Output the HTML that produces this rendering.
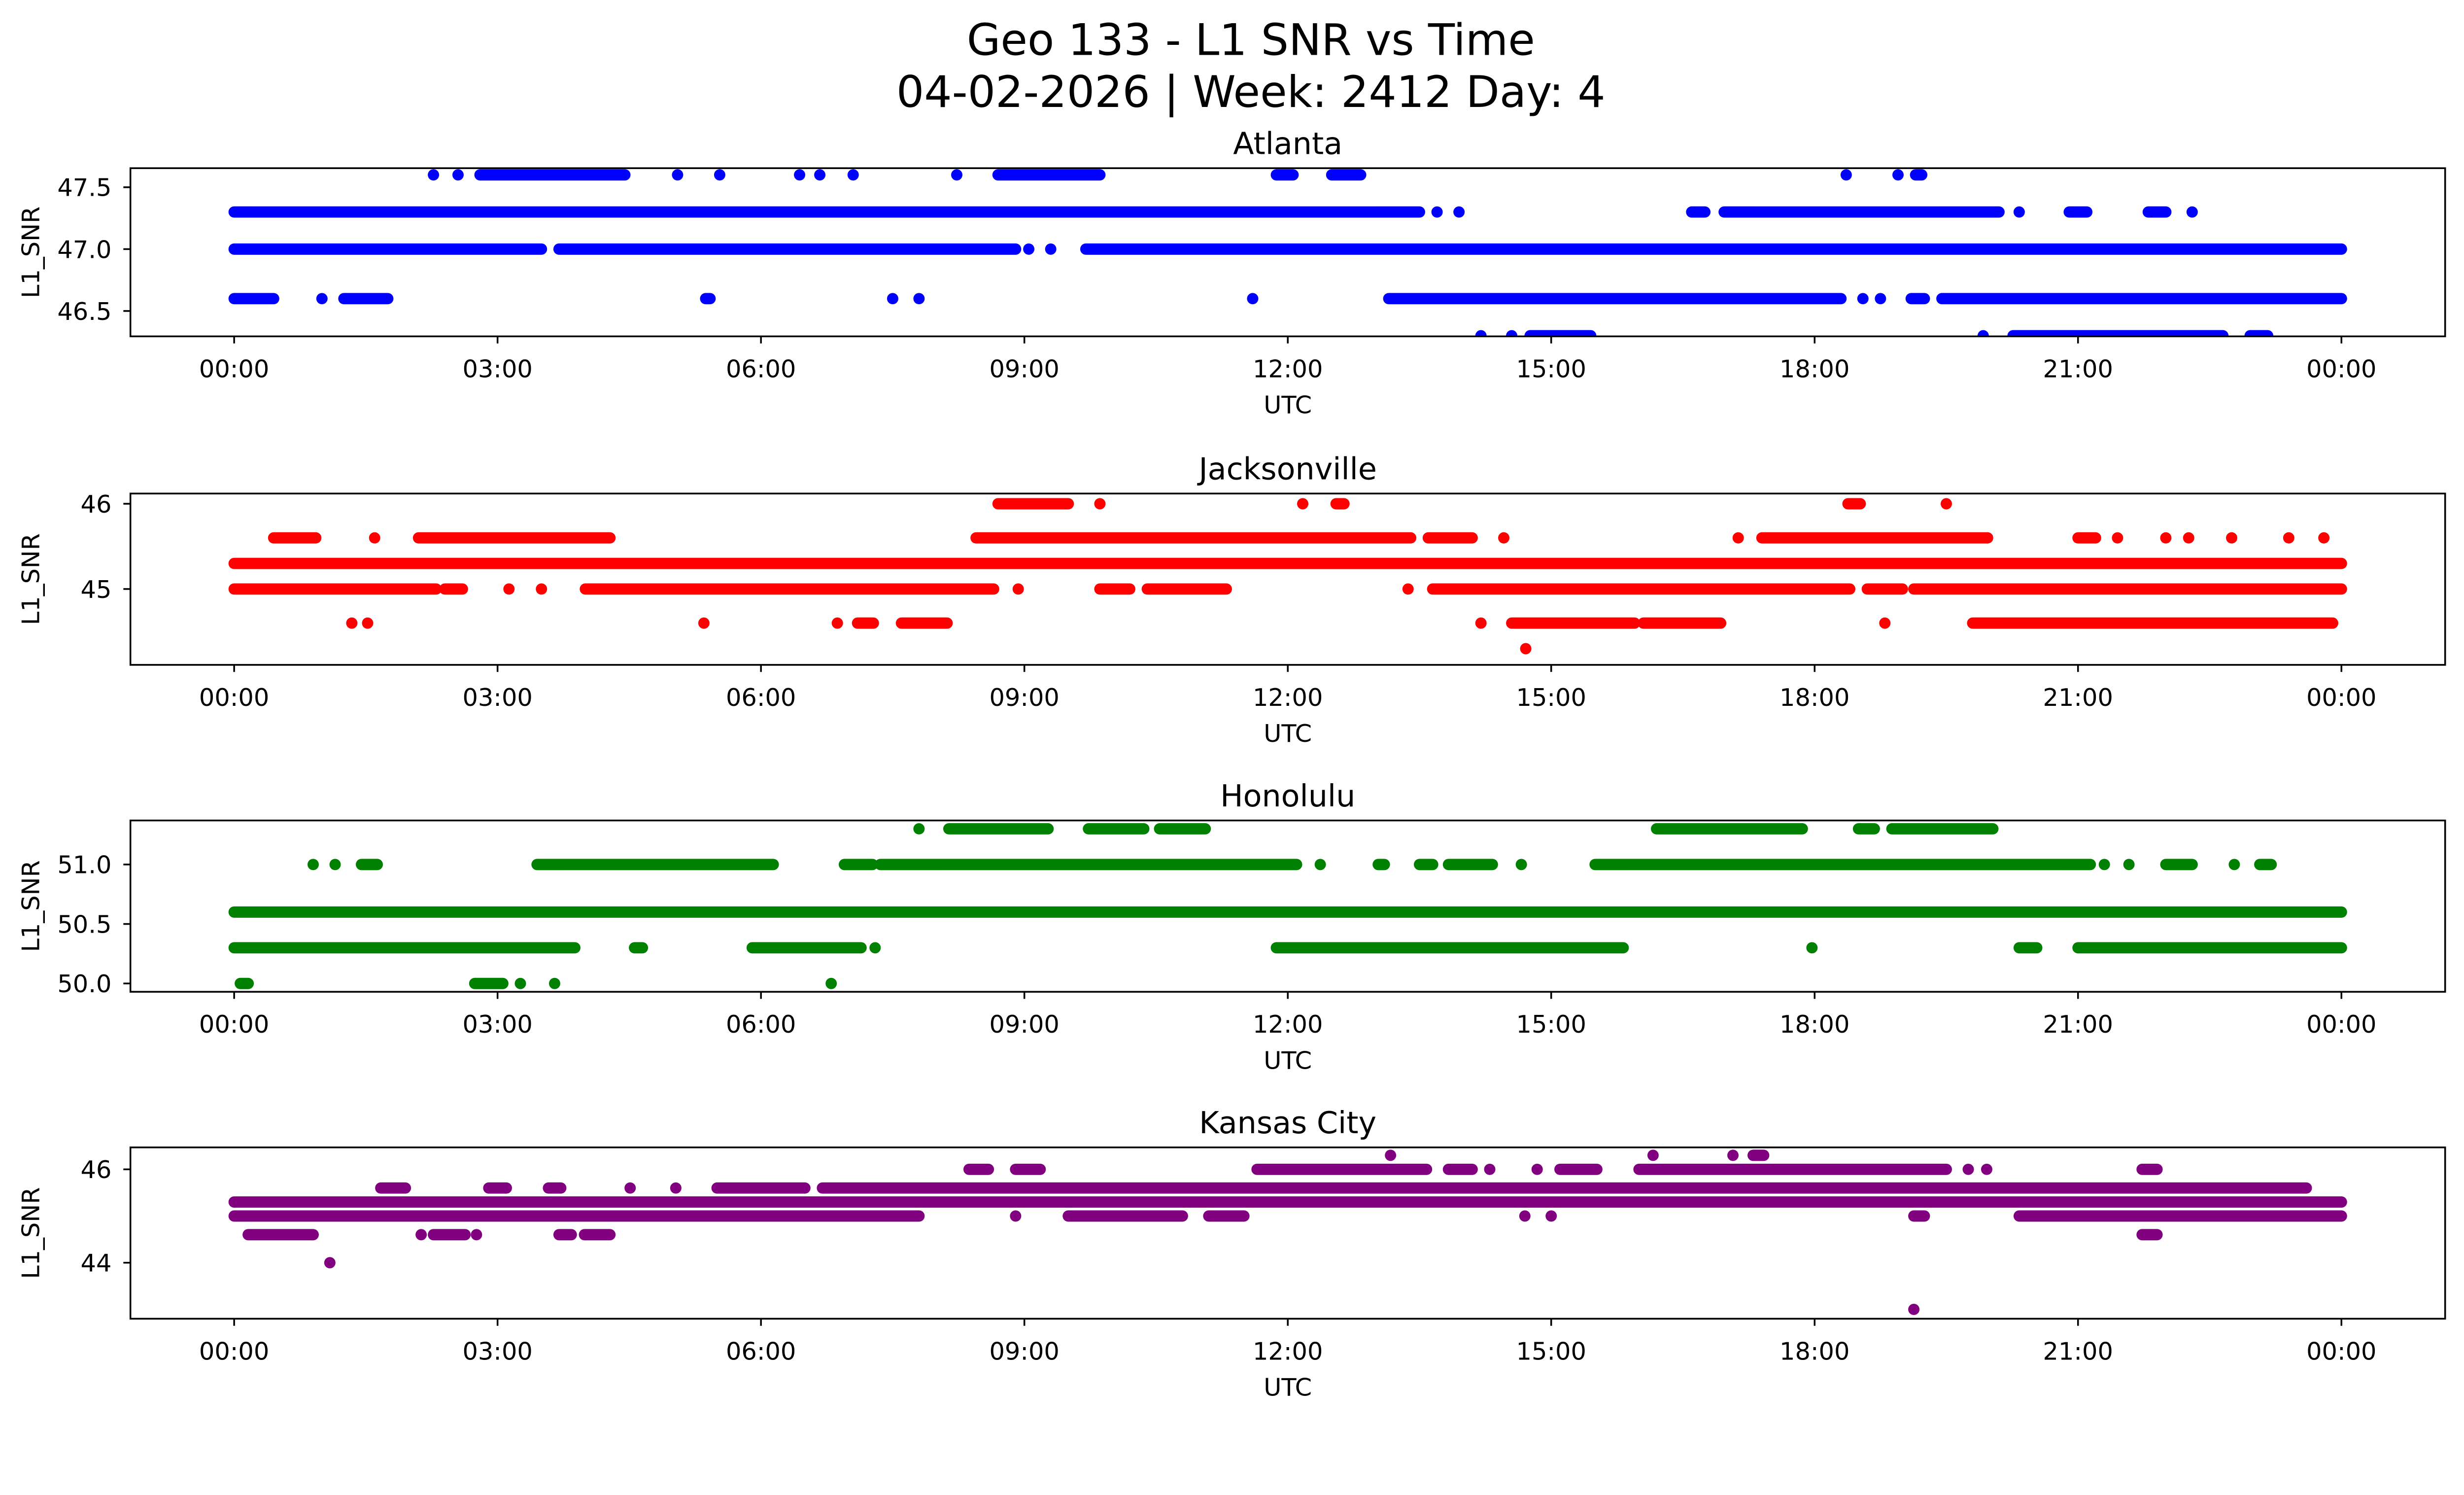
<!DOCTYPE html>
<html><head><meta charset="utf-8"><style>
html,body{margin:0;padding:0;background:#fff;overflow:hidden;}
#wrap{position:absolute;left:0;top:0;width:100vw;height:100vh;overflow:hidden;}
svg{display:block;position:absolute;left:0;top:0;}
text{font-family:"DejaVu Sans","Liberation Sans",sans-serif;fill:#000;}
</style></head>
<body>
<div id="wrap">
<svg id="root" width="5278" height="3033" xmlns="http://www.w3.org/2000/svg">
<rect width="100%" height="100%" fill="#fff"/>
<g id="chart" transform="scale(3.3661)">
<text x="796" y="35" font-size="27.8" text-anchor="middle">Geo 133 - L1 SNR vs Time</text>
<text x="796" y="68" font-size="27.8" text-anchor="middle">04-02-2026 | Week: 2412 Day: 4</text>
</g>
</svg>
</div>
<script>
// Runs: [level, startHour, endHour]; single points have start == end
const atlantaRuns = [
 [47.3,0,13.5],[47.3,13.7,13.7],[47.3,13.95,13.95],[47.3,16.6,16.75],[47.3,16.97,20.1],[47.3,20.33,20.33],[47.3,20.9,21.1],[47.3,21.8,22.0],[47.3,22.3,22.3],
 [47.0,0,3.5],[47.0,3.7,8.9],[47.0,9.05,9.05],[47.0,9.3,9.3],[47.0,9.7,24],
 [46.6,0,0.45],[46.6,1.0,1.0],[46.6,1.25,1.75],[46.6,5.37,5.42],[46.6,7.5,7.5],[46.6,7.8,7.8],[46.6,11.6,11.6],[46.6,13.15,18.3],[46.6,18.55,18.55],[46.6,18.75,18.75],[46.6,19.1,19.25],[46.6,19.45,24],
 [47.6,2.27,2.27],[47.6,2.55,2.55],[47.6,2.8,4.45],[47.6,5.05,5.05],[47.6,5.53,5.53],[47.6,6.44,6.44],[47.6,6.67,6.67],[47.6,7.05,7.05],[47.6,8.23,8.23],[47.6,8.7,9.86],[47.6,11.87,12.06],[47.6,12.5,12.83],[47.6,18.36,18.36],[47.6,18.95,18.95],[47.6,19.15,19.22],
 [46.3,14.2,14.2],[46.3,14.55,14.55],[46.3,14.76,15.45],[46.3,19.92,19.92],[46.3,20.26,22.65],[46.3,22.96,23.16]
];
const jacksonvilleRuns = [
 [45.3,0,24],
 [45.0,0,2.3],[45.0,2.4,2.6],[45.0,3.13,3.13],[45.0,3.5,3.5],[45.0,4.0,8.65],[45.0,8.93,8.93],[45.0,9.86,10.2],[45.0,10.4,11.3],[45.0,13.37,13.37],[45.0,13.65,18.4],[45.0,18.6,19.0],[45.0,19.13,24],
 [45.6,0.45,0.93],[45.6,1.6,1.6],[45.6,2.1,4.28],[45.6,8.45,13.4],[45.6,13.6,14.1],[45.6,14.46,14.46],[45.6,17.13,17.13],[45.6,17.4,19.97],[45.6,21.0,21.2],[45.6,21.45,21.45],[45.6,22.0,22.0],[45.6,22.26,22.26],[45.6,22.75,22.75],[45.6,23.4,23.4],[45.6,23.8,23.8],
 [46.0,8.7,9.5],[46.0,9.86,9.86],[46.0,12.17,12.17],[46.0,12.55,12.64],[46.0,18.38,18.52],[46.0,19.5,19.5],
 [44.6,1.34,1.34],[44.6,1.52,1.52],[44.6,5.35,5.35],[44.6,6.87,6.87],[44.6,7.1,7.28],[44.6,7.6,8.12],[44.6,14.2,14.2],[44.6,14.55,15.95],[44.6,16.05,16.93],[44.6,18.8,18.8],[44.6,19.8,23.9],
 [44.3,14.71,14.71]
];
const honoluluRuns = [
 [50.6,0,24],
 [50.3,0,3.88],[50.3,4.56,4.65],[50.3,5.9,7.14],[50.3,7.3,7.3],[50.3,11.87,15.82],[50.3,17.97,17.97],[50.3,20.33,20.53],[50.3,21.0,24],
 [50.0,0.07,0.16],[50.0,2.74,3.06],[50.0,3.26,3.26],[50.0,3.65,3.65],[50.0,6.8,6.8],
 [51.0,0.9,0.9],[51.0,1.15,1.15],[51.0,1.45,1.63],[51.0,3.45,6.14],[51.0,6.95,7.27],[51.0,7.36,12.1],[51.0,12.37,12.37],[51.0,13.03,13.1],[51.0,13.5,13.65],[51.0,13.83,14.33],[51.0,14.66,14.66],[51.0,15.5,21.14],[51.0,21.3,21.3],[51.0,21.58,21.58],[51.0,22.0,22.3],[51.0,22.78,22.78],[51.0,23.07,23.2],
 [51.3,7.8,7.8],[51.3,8.14,9.27],[51.3,9.73,10.36],[51.3,10.54,11.06],[51.3,16.2,17.86],[51.3,18.5,18.68],[51.3,18.88,20.03]
];
const kansasRuns = [
 [45.3,0,24],
 [45.0,0,7.8],[45.0,8.9,8.9],[45.0,9.5,10.8],[45.0,11.1,11.5],[45.0,14.7,14.7],[45.0,15.0,15.0],[45.0,19.13,19.25],[45.0,20.33,24],
 [45.6,1.67,1.95],[45.6,2.9,3.1],[45.6,3.58,3.72],[45.6,4.51,4.51],[45.6,5.03,5.03],[45.6,5.5,6.5],[45.6,6.7,23.6],
 [46.0,8.37,8.59],[46.0,8.9,9.18],[46.0,11.65,13.58],[46.0,13.83,14.1],[46.0,14.3,14.3],[46.0,14.84,14.84],[46.0,15.1,15.52],[46.0,16.0,19.5],[46.0,19.75,19.75],[46.0,19.96,19.96],[46.0,21.73,21.9],
 [46.3,13.17,13.17],[46.3,16.16,16.16],[46.3,17.07,17.07],[46.3,17.3,17.42],
 [44.6,0.16,0.9],[44.6,2.13,2.13],[44.6,2.27,2.63],[44.6,2.76,2.76],[44.6,3.7,3.84],[44.6,3.99,4.28],[44.6,21.73,21.9],
 [44.0,1.09,1.09],
 [43.0,19.13,19.13]
];
const panelTitles = ["Atlanta","Jacksonville","Honolulu","Kansas City"];
const panelColors = ["#0000ff","#ff0000","#008000","#800080"];
const yTicks = [[47.5,47.0,46.5],[46,45],[51.0,50.5,50.0],[46,44]];
const yTickLabels = [["47.5","47.0","46.5"],["46","45"],["51.0","50.5","50.0"],["46","44"]];
const yRanges = [[46.295,47.654],[44.11,46.12],[49.93,51.37],[42.8,46.47]];
const xTickHours = [0,3,6,9,12,15,18,21,24];
const xTickLabels = ["00:00","03:00","06:00","09:00","12:00","15:00","18:00","21:00","00:00"];

const NS = "http://www.w3.org/2000/svg";
const root = document.getElementById("root");
const svg = document.getElementById("chart");
const vw = window.innerWidth || 5278, vh = window.innerHeight || 3033;
const S = Math.min(vw / 1568, vh / 901);
root.setAttribute("width", vw);
root.setAttribute("height", vh);
svg.setAttribute("transform", "scale(" + S + ")");
const boxes = [[107,214],[314,423],[522,631],[730,839]];
const L = 83, R = 1556, X0 = 149, X1 = 1490;
const FS = 15.5;
const allRuns = [atlantaRuns, jacksonvilleRuns, honoluluRuns, kansasRuns];
function mk(tag, attrs, parent){
  const e = document.createElementNS(NS, tag);
  for (const k in attrs) e.setAttribute(k, attrs[k]);
  (parent||svg).appendChild(e);
  return e;
}
function xScale(h){ return X0 + (X1 - X0) * h / 24; }
for (let p = 0; p < 4; p++) {
  const [top, bot] = boxes[p];
  const [ymin, ymax] = yRanges[p];
  const yScale = v => bot - (v - ymin) / (ymax - ymin) * (bot - top);
  const g = mk("g", {});
  
  
  const clip = mk("clipPath", {id: "clip" + p}, g);
  mk("rect", {x: L, y: top, width: R - L, height: bot - top}, clip);
  const marks = mk("g", {"clip-path": "url(#clip" + p + ")"}, g);
  
  
  for (const r of allRuns[p]) {
    const y = yScale(r[0]);
    const ln = mk("line", {x1: xScale(r[1]), x2: xScale(r[2]), y1: y, y2: y, stroke: panelColors[p], "stroke-width": 7.2, "stroke-linecap": "round"}, marks);
    
    
  }
  const frame = mk("rect", {x: L, y: top, width: R - L, height: bot - top, fill: "none", stroke: "#000", "stroke-width": 1.1}, g);
  
  
  for (let i = 0; i < yTicks[p].length; i++) {
    const y = yScale(yTicks[p][i]);
    mk("line", {x1: L - 4.5, x2: L, y1: y, y2: y, stroke: "#000", "stroke-width": 1.1}, g);
    const t = mk("text", {x: L - 12, y: y + 5.6, "font-size": FS, "text-anchor": "end"}, g);
    t.textContent = yTickLabels[p][i];
    
    
  }
  for (let i = 0; i < xTickHours.length; i++) {
    const x = xScale(xTickHours[i]);
    mk("line", {x1: x, x2: x, y1: bot, y2: bot + 4.5, stroke: "#000", "stroke-width": 1.1}, g);
    const t = mk("text", {x: x, y: bot + 26, "font-size": FS, "text-anchor": "middle"}, g);
    t.textContent = xTickLabels[i];
    
    
  }
  const xl = mk("text", {x: (L + R) / 2, y: bot + 49, "font-size": FS, "text-anchor": "middle"}, g);
  xl.textContent = "UTC";
  
  
  const yl = mk("text", {x: 0, y: 0, "font-size": FS, "text-anchor": "middle", transform: "translate(25," + ((top + bot) / 2) + ") rotate(-90)"}, g);
  yl.textContent = "L1_SNR";
  
  
  const tt = mk("text", {x: (L + R) / 2, y: top - 9, "font-size": 19.4, "text-anchor": "middle"}, g);
  tt.textContent = panelTitles[p];
  
  
}
</script>
</body></html>
